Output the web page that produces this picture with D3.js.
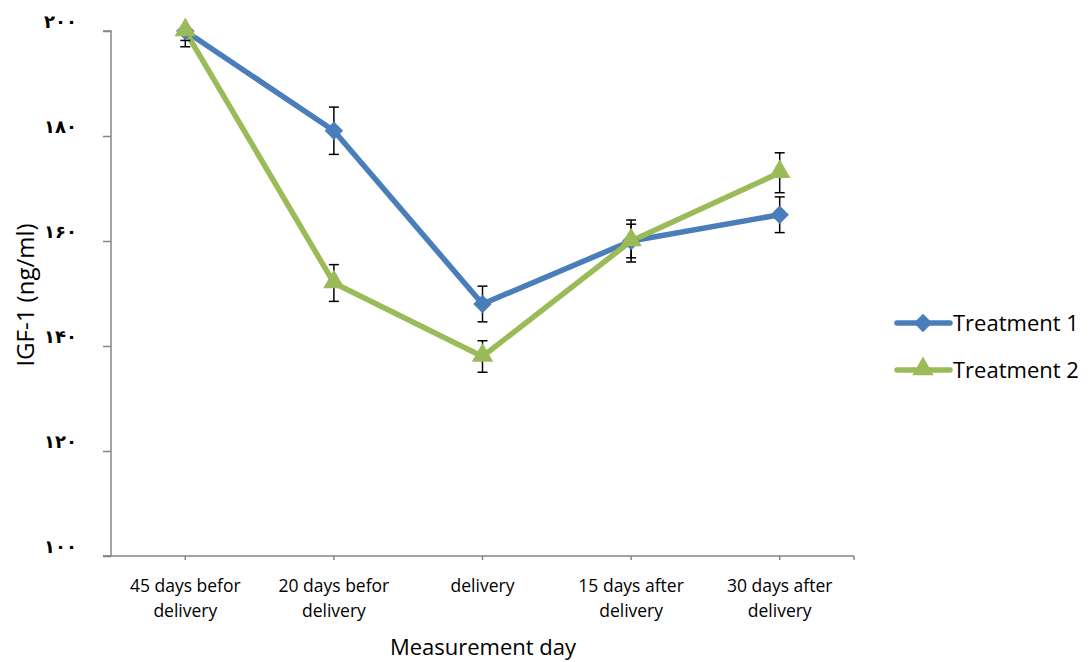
<!doctype html>
<html>
<head>
<meta charset="utf-8">
<script src="https://d3js.org/d3.v7.min.js"></script>
<style>
  body { margin: 0; background: #fff; }
  text { font-family: "Open Sans", sans-serif; fill: #000; }
</style>
</head>
<body>
<svg width="1089" height="662"></svg>
<script>
// data
var days = [["45 days befor", "delivery"], ["20 days befor", "delivery"], ["delivery"],
            ["15 days after", "delivery"], ["30 days after", "delivery"]];
var seriesNames = ["Treatment 1", "Treatment 2"];
var t1 = [200, 181, 148, 160, 165];
var t1err = [1.8, 4.5, 3.4, 4.0, 3.4];
var t2 = [200, 152, 138, 160, 173];
var t2err = [3.0, 3.5, 3.0, 3.2, 3.8];
var yTicks = [100, 120, 140, 160, 180, 200];
var yTickLabels = ["۱۰۰", "۱۲۰", "۱۴۰", "۱۶۰", "۱۸۰", "۲۰۰"];
var colors = ["#4a7ebb", "#9bbb59"];

var svg = d3.select("svg");
var pl = 111, pr = 854, pt = 31, pb = 556;

var x = d3.scaleBand().domain(d3.range(days.length)).range([pl, pr]);
var y = d3.scaleLinear().domain([100, 200]).range([pb, pt]);
var cx = function(i) { return x(i) + x.bandwidth() / 2; };

svg.append("defs").append("clipPath").attr("id", "plot")
  .append("rect").attr("x", pl).attr("y", pt).attr("width", pr - pl).attr("height", pb - pt);

// y axis
var yAxis = svg.append("g").attr("transform", "translate(" + pl + ",0)")
  .call(d3.axisLeft(y).tickValues(yTicks).tickSize(8).tickFormat(function(d, i) { return yTickLabels[i]; }));
yAxis.select(".domain").attr("stroke", "#868686").attr("stroke-width", 1.5).attr("d", "M-8," + pb + "H0V" + pt + "H-8");
yAxis.selectAll(".tick line").attr("stroke", "#868686").attr("stroke-width", 1.5);
yAxis.selectAll(".tick text")
  .attr("x", -34).attr("dy", "-0.2em")
  .style("font-family", "'DejaVu Sans', sans-serif").style("font-weight", "bold").style("font-size", "18px");

// x axis
var xAxis = svg.append("g").attr("transform", "translate(0," + pb + ")");
xAxis.append("line").attr("x1", pl - 8).attr("x2", pr).attr("stroke", "#868686").attr("stroke-width", 1.5);
xAxis.selectAll("line.tk").data(d3.range(days.length).map(cx).concat([pr])).enter()
  .append("line").attr("class", "tk").attr("x1", function(d) { return d; }).attr("x2", function(d) { return d; })
  .attr("y1", 0).attr("y2", 4).attr("stroke", "#868686").attr("stroke-width", 1.5);
xAxis.selectAll("text.lbl").data(days).enter().append("text").attr("class", "lbl")
  .attr("text-anchor", "middle").attr("transform", function(d, i) { return "translate(" + cx(i) + ",0)"; })
  .style("font-size", "17.5px")
  .selectAll("tspan").data(function(d) { return d; }).enter().append("tspan")
  .attr("x", 0).attr("y", function(d, j) { return 36 + j * 25; }).text(function(d) { return d; });

svg.append("text").attr("x", 483).attr("y", 655).attr("text-anchor", "middle")
  .style("font-size", "22px").text("Measurement day");
svg.append("text").attr("transform", "translate(34,295) rotate(-90)").attr("text-anchor", "middle")
  .style("font-size", "24px").text("IGF-1 (ng/ml)");

// series
var series = [{ v: t1, e: t1err }, { v: t2, e: t2err }];
var plot = svg.append("g").attr("clip-path", "url(#plot)");
var line = d3.line().x(function(d, i) { return cx(i); }).y(function(d) { return y(d); });
var diamond = d3.symbol().type(d3.symbolSquare).size(170);
var triangle = d3.symbol().type(d3.symbolTriangle).size(200);

series.forEach(function(s, k) {
  plot.append("path").datum(s.v).attr("d", line).attr("fill", "none")
    .attr("stroke", colors[k]).attr("stroke-width", 5.5).attr("stroke-linejoin", "round");
});

series.forEach(function(s, k) {
  var g = svg.append("g");
  var eg = plot.append("g");
  s.v.forEach(function(v, i) {
    var hi = y(v + s.e[i]), lo = y(v - s.e[i]), X = cx(i);
    eg.append("line").attr("x1", X).attr("x2", X).attr("y1", hi).attr("y2", lo).attr("stroke", "#000").attr("stroke-width", 1.5);
    [hi, lo].forEach(function(yy) {
      eg.append("line").attr("x1", X - 5).attr("x2", X + 5).attr("y1", yy).attr("y2", yy).attr("stroke", "#000").attr("stroke-width", 1.5);
    });
    if (k === 0) {
      g.append("path").attr("d", diamond).attr("fill", colors[k])
        .attr("transform", "translate(" + X + "," + y(v) + ") rotate(45)");
    } else {
      g.append("path").attr("d", triangle).attr("fill", colors[k])
        .attr("transform", "translate(" + X + "," + (y(v) - 1) + ")");
    }
  });
});

// legend
var legend = svg.append("g");
seriesNames.forEach(function(name, k) {
  var ly = 323 + k * 47;
  legend.append("line").attr("x1", 897).attr("x2", 950).attr("y1", ly).attr("y2", ly)
    .attr("stroke", colors[k]).attr("stroke-width", 5.5).attr("stroke-linecap", "round");
  legend.append("path").attr("d", k === 0 ? diamond : triangle).attr("fill", colors[k])
    .attr("transform", "translate(923," + (k === 0 ? ly : ly - 1) + ")" + (k === 0 ? " rotate(45)" : ""));
  legend.append("text").attr("x", 953).attr("y", ly + 8).style("font-size", "22px").text(name);
});
</script>
</body>
</html>
